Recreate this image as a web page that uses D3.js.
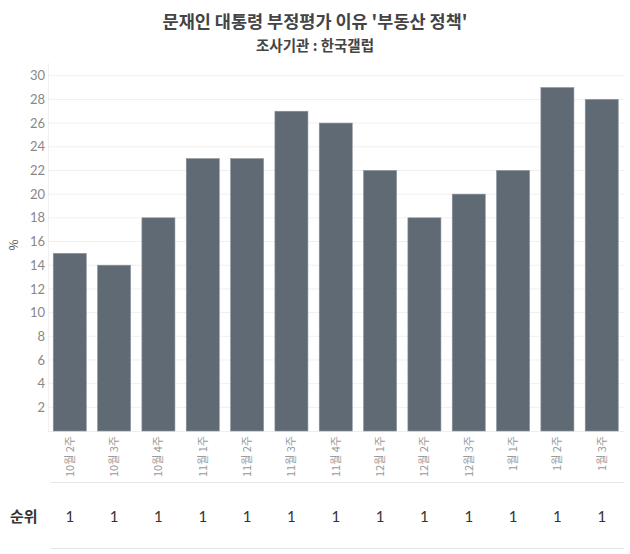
<!DOCTYPE html>
<html><head><meta charset="utf-8">
<script src="https://cdn.jsdelivr.net/npm/d3@7"></script>
<style>
body{margin:0;background:#fff;}
text{font-family:"Noto Sans CJK KR","Noto Sans",sans-serif;}
</style></head>
<body><svg id="c" width="630" height="554"></svg>
<script>
const categories = ["10월 2주","10월 3주","10월 4주","11월 1주","11월 2주","11월 3주","11월 4주","12월 1주","12월 2주","12월 3주","1월 1주","1월 2주","1월 3주"];
const values = [15,14,18,23,23,27,26,22,18,20,22,29,28];
const ranks = [1,1,1,1,1,1,1,1,1,1,1,1,1];
const yTicks = [2,4,6,8,10,12,14,16,18,20,22,24,26,28,30];
const title = "문재인 대통령 부정평가 이유 '부동산 정책'";
const subtitle = "조사기관 : 한국갤럽";

const svg = d3.select("#c");
const x = d3.scaleBand().domain(categories).range([47.6, 623.9]).paddingInner(0.255).paddingOuter(0.1275);
const y = d3.scaleLinear().domain([0,30]).range([431, 75.7]);

svg.append("text").attr("x",315).attr("y",28).attr("text-anchor","middle")
  .attr("font-size",17.5).attr("font-weight","bold").attr("fill","#444").text(title);
svg.append("text").attr("x",315).attr("y",51).attr("text-anchor","middle")
  .attr("font-size",14.5).attr("font-weight","bold").attr("fill","#444").text(subtitle);

// gridlines
svg.append("g").selectAll("line").data(yTicks).join("line")
  .attr("x1",48).attr("x2",624).attr("y1",d=>y(d)).attr("y2",d=>y(d))
  .attr("stroke","#f0f0f0").attr("stroke-width",1);
svg.append("line").attr("x1",48.5).attr("x2",48.5).attr("y1",63).attr("y2",431).attr("stroke","#f0f0f0");
svg.append("line").attr("x1",48).attr("x2",624).attr("y1",431.5).attr("y2",431.5).attr("stroke","#eee");

// y axis
const ya = d3.axisLeft(y).tickValues(yTicks).tickSize(0).tickPadding(0);
const gy = svg.append("g").attr("transform","translate(45,0)").call(ya);
gy.select(".domain").remove();
gy.selectAll("text").attr("font-size",13).attr("fill","#888").style("font-family","Lato, 'Noto Sans', sans-serif");
svg.append("text").attr("transform","translate(18,245) rotate(-90)").attr("text-anchor","middle")
  .attr("font-size",12).attr("fill","#555").text("%");

// bars
svg.append("g").selectAll("rect").data(values).join("rect")
  .attr("x",(d,i)=>x(categories[i])).attr("width",x.bandwidth())
  .attr("y",d=>y(d)).attr("height",d=>y(0)-y(d))
  .attr("fill","#5f6a74").attr("stroke","#8a939b").attr("stroke-width",0.6);

// x labels
const xa = d3.axisBottom(x).tickSize(0).tickPadding(0);
const gx = svg.append("g").attr("transform","translate(0,436)").call(xa);
gx.select(".domain").remove();
gx.selectAll("text").attr("transform","rotate(-90)").attr("text-anchor","end")
  .attr("x",0).attr("y",0).attr("dx",0).attr("dy","0.35em")
  .attr("font-size",11).attr("fill","#999");

// rank table
svg.append("line").attr("x1",51).attr("x2",624).attr("y1",482.5).attr("y2",482.5).attr("stroke","#e6e6e6");
svg.append("line").attr("x1",51).attr("x2",624).attr("y1",548.5).attr("y2",548.5).attr("stroke","#e6e6e6");
svg.append("text").attr("x",10).attr("y",522).attr("font-size",15).attr("font-weight","bold").attr("fill","#333").text("순위");
svg.append("g").selectAll("text").data(ranks).join("text")
  .attr("x",(d,i)=>x(categories[i])+x.bandwidth()/2).attr("y",522)
  .attr("text-anchor","middle").attr("font-size",15).attr("fill","#333")
  .style("font-family","Lato, 'Noto Sans', sans-serif").text(d=>d);
</script></body></html>
